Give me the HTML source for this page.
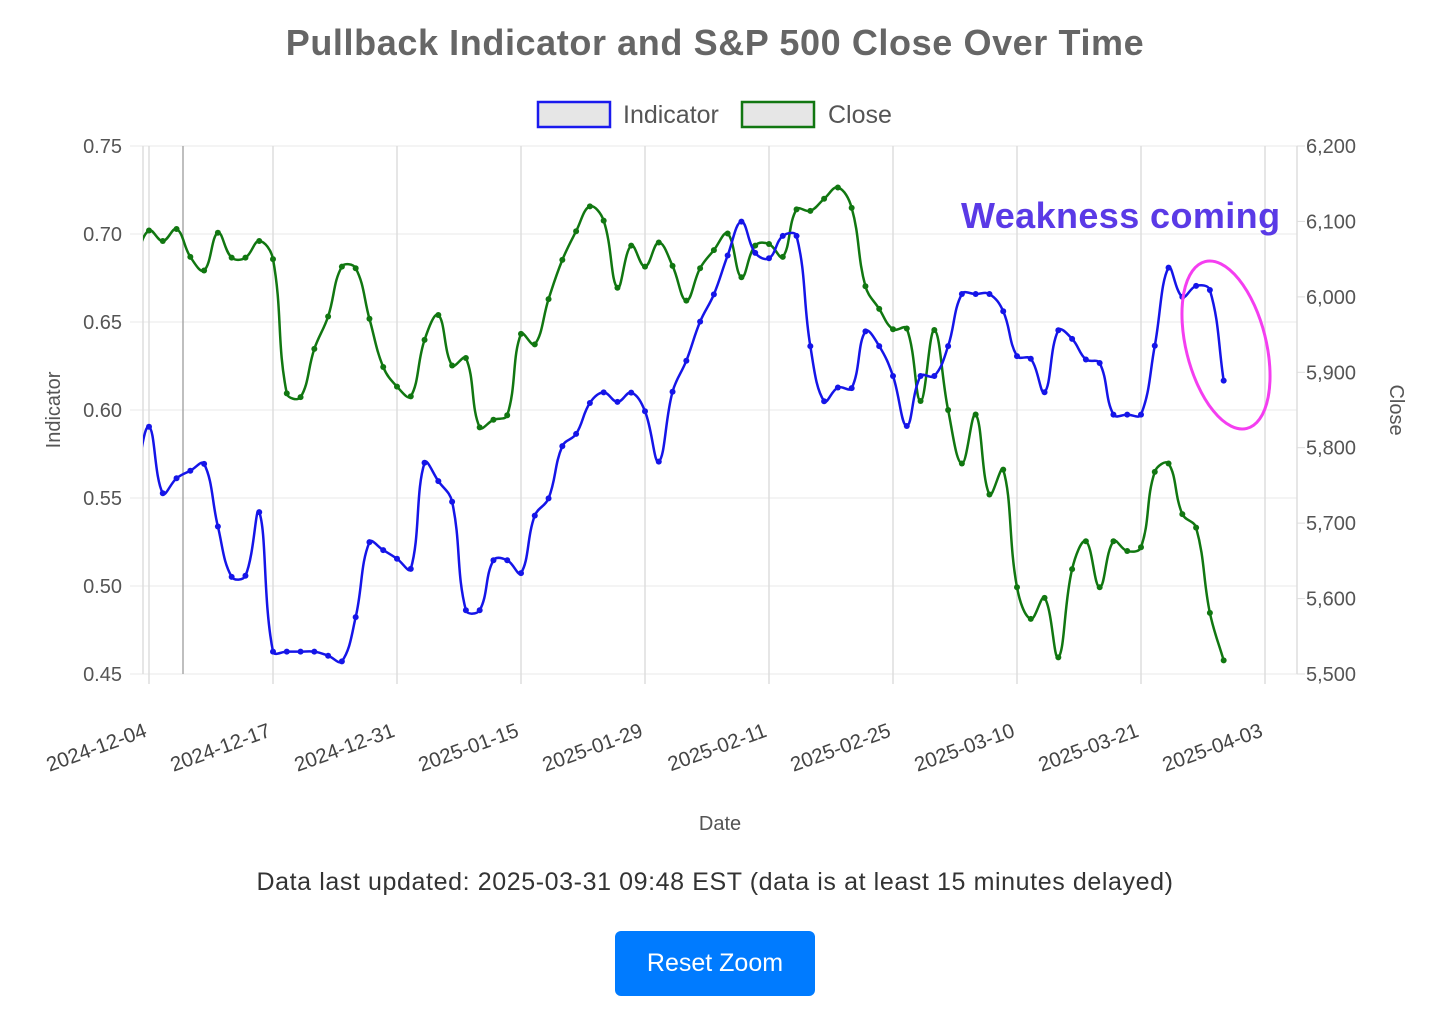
<!DOCTYPE html>
<html><head><meta charset="utf-8"><style>
body{margin:0;background:#fff;width:1456px;height:1032px;overflow:hidden;font-family:"Liberation Sans",sans-serif}
#btn{position:absolute;left:615px;top:931px;width:200px;height:65px;background:#007bff;border-radius:6px;color:#fff;font-size:25px;line-height:65px;text-align:center}
</style></head><body>
<svg id="chart" width="1456" height="1032" style="position:absolute;left:0;top:0" font-family="Liberation Sans, sans-serif">
<text x="715" y="55" text-anchor="middle" font-size="36" letter-spacing="0.6" font-weight="bold" fill="#666">Pullback Indicator and S&amp;P 500 Close Over Time</text>
<g><rect x="538" y="102" width="72" height="25" fill="#e6e6e6" stroke="#1a1aee" stroke-width="2.5"/><text x="623" y="123" font-size="25" fill="#555">Indicator</text></g>
<g><rect x="742" y="102" width="72" height="25" fill="#e6e6e6" stroke="#117711" stroke-width="2.5"/><text x="828" y="123" font-size="25" fill="#555">Close</text></g>
<g id="grid"></g><g id="axes"></g>
<clipPath id="clip"><rect x="143" y="140" width="1154" height="540"/></clipPath>
<g id="series" clip-path="url(#clip)"></g>
<text transform="translate(60,410) rotate(-90)" text-anchor="middle" font-size="20" fill="#555">Indicator</text>
<text transform="translate(1390,410) rotate(90)" text-anchor="middle" font-size="20" fill="#555">Close</text>
<text x="720" y="830" text-anchor="middle" font-size="20" fill="#555">Date</text>
<text x="961" y="228" font-size="36" letter-spacing="0.4" font-weight="bold" fill="#5a3ae6">Weakness coming</text>
<ellipse cx="1226" cy="345" rx="40" ry="86" transform="rotate(-14 1226 345)" fill="none" stroke="#f43ef0" stroke-width="3"/>
<text x="715" y="890" text-anchor="middle" font-size="25" letter-spacing="0.6" fill="#333">Data last updated: 2025-03-31 09:48 EST (data is at least 15 minutes delayed)</text>
</svg>
<div id="btn">Reset Zoom</div>
<script>
const xTickLabels=["2024-12-04","2024-12-17","2024-12-31","2025-01-15","2025-01-29","2025-02-11","2025-02-25","2025-03-10","2025-03-21","2025-04-03"];
const leftTicks=[0.45,0.50,0.55,0.60,0.65,0.70,0.75];
const rightTicks=[5500,5600,5700,5800,5900,6000,6100,6200];
const indicator=[0.56,0.5905,0.5527,0.5612,0.5655,0.5694,0.5338,0.5052,0.5058,0.542,0.4627,0.4627,0.4627,0.4627,0.4604,0.4572,0.4823,0.5249,0.5204,0.5155,0.5097,0.570,0.5596,0.5479,0.4862,0.4862,0.5146,0.5146,0.5073,0.540,0.5498,0.5795,0.5864,0.604,0.610,0.6046,0.6099,0.5993,0.5707,0.6104,0.628,0.6502,0.6657,0.6878,0.707,0.6893,0.6862,0.6989,0.6989,0.6363,0.605,0.6128,0.6124,0.6447,0.6363,0.6193,0.5909,0.6193,0.6193,0.6363,0.6659,0.6659,0.6659,0.6561,0.6306,0.6291,0.6101,0.6453,0.6404,0.6287,0.6267,0.5974,0.5974,0.5974,0.6365,0.6809,0.6643,0.6705,0.6682,0.6167];
const closeVals=[6050,6088,6074,6090,6053,6035,6085,6052,6052,6074,6050,5872,5867,5931,5974,6040,6038,5971,5907,5881,5868,5943,5976,5909,5919,5827,5837,5843,5951,5937,5997,6049,6087,6120,6101,6012,6068,6040,6072,6041,5995,6038,6062,6084,6026,6068,6070,6053,6116,6114,6130,6145,6118,6014,5984,5957,5958,5862,5956,5850,5779,5844,5738,5771,5615,5573,5601,5522,5639,5676,5615,5676,5663,5668,5768,5779,5712,5694,5581,5518];
const NS="http://www.w3.org/2000/svg";
const X0=149,STEP=124/9,TOP=146,BOT=674;
const xs=i=>X0+(i-1)*STEP;
const yL=v=>BOT-(v-0.45)/0.30*(BOT-TOP);
const yR=v=>BOT-(v-5500)/700*(BOT-TOP);
function mk(tag,attrs,parent){const e=document.createElementNS(NS,tag);for(const k in attrs)e.setAttribute(k,attrs[k]);parent.appendChild(e);return e;}
const grid=document.getElementById('grid'),axes=document.getElementById('axes'),ser=document.getElementById('series');
leftTicks.forEach((t,k)=>{const y=yL(t);
 const g=mk('line',{x1:130,x2:1297,y1:y,y2:y,stroke:'#e8e8e8','stroke-width':1},grid);
 
 
 const l=mk('text',{x:122,y:y+7,'text-anchor':'end','font-size':20,fill:'#555'},axes);l.textContent=t.toFixed(2);
 
 });
rightTicks.forEach(t=>{const y=yR(t);
 mk('line',{x1:1297,x2:1305,y1:y,y2:y,stroke:'#ddd'},grid);
 const l=mk('text',{x:1306,y:y+7,'font-size':20,fill:'#555'},axes);l.textContent=t.toLocaleString('en-US');
 
 });
xTickLabels.forEach((t,k)=>{const x=X0+k*9*STEP;
 const g=mk('line',{x1:x,x2:x,y1:TOP,y2:684,stroke:'#ddd','stroke-width':1.5},grid);
 
 
 const l=mk('text',{x:x-1,y:736,'text-anchor':'end','font-size':20.5,fill:'#444',transform:`rotate(-20 ${x-1} 736)`},axes);l.textContent=t;
 
 });
mk('line',{x1:143,x2:143,y1:TOP,y2:674,stroke:'#ddd','stroke-width':1.5},grid);
mk('line',{x1:1297,x2:1297,y1:TOP,y2:674,stroke:'#ddd','stroke-width':1.5},grid);
mk('line',{x1:183,x2:183,y1:TOP,y2:674,stroke:'#aaa','stroke-width':1.5},grid);
function spline(pts){const t=0.4,cps=[];
 for(let i=0;i<pts.length;i++){const p0=pts[Math.max(0,i-1)],p1=pts[i],p2=pts[Math.min(pts.length-1,i+1)];
  const d01=Math.hypot(p1[0]-p0[0],p1[1]-p0[1]),d12=Math.hypot(p2[0]-p1[0],p2[1]-p1[1]);
  let s01=d01/(d01+d12)||0,s12=d12/(d01+d12)||0;const fa=t*s01,fb=t*s12;
  const clampY=y=>Math.max(TOP,Math.min(BOT,y));
  cps.push({prev:[p1[0]-fa*(p2[0]-p0[0]),clampY(p1[1]-fa*(p2[1]-p0[1]))],next:[p1[0]+fb*(p2[0]-p0[0]),clampY(p1[1]+fb*(p2[1]-p0[1]))]});}
 let d=`M${pts[0][0]},${pts[0][1]}`;
 for(let i=0;i<pts.length-1;i++){const a=cps[i].next,b=cps[i+1].prev,p=pts[i+1];d+=` C${a[0]},${a[1]} ${b[0]},${b[1]} ${p[0]},${p[1]}`;}
 return d;}
function draw(vals,yf,color,name){const pts=vals.map((v,i)=>[xs(i),yf(v)]);
 const p=mk('path',{d:spline(pts),fill:'none',stroke:color,'stroke-width':2.5},ser);
 
 
 pts.forEach((q,i)=>{if(i===0)return;const c=mk('circle',{cx:q[0],cy:q[1],r:3,fill:color},ser);
  
  });}
draw(closeVals,yR,'#117711','close');
draw(indicator,yL,'#1515e8','indicator');
</script>
</body></html>
